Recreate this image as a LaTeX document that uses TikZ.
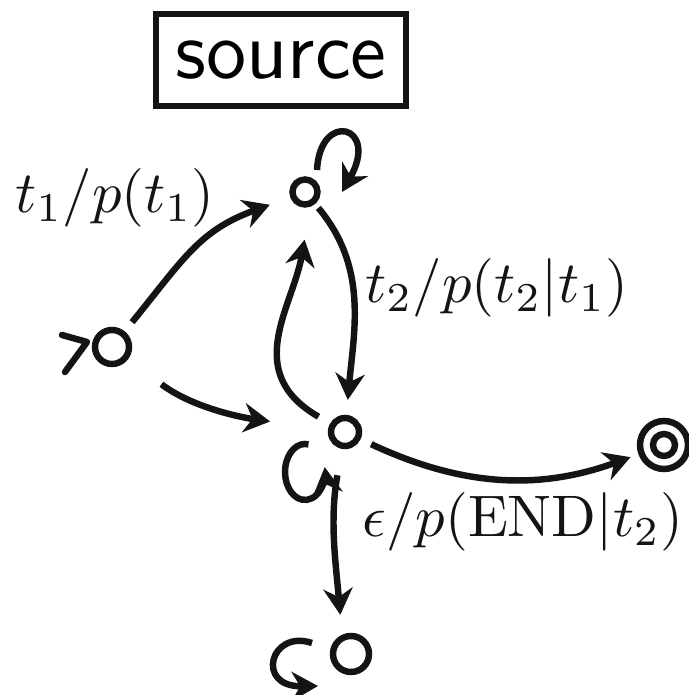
\documentclass[tikz,border=0pt]{standalone}
\usetikzlibrary{arrows.meta}
\definecolor{ink}{HTML}{141414}
\tikzset{
  stnode/.style={circle, draw=ink, line width=1.1pt, inner sep=0pt, minimum size=#1},
  trans/.style={draw=ink, line width=1.1pt, -{Stealth[length=4.5pt, width=5pt]}},
  translbl/.style={text=ink, inner sep=1pt},
  srcbox/.style={draw=ink, line width=1.1pt, minimum width=1.43cm, minimum height=0.55cm, font=\fontsize{14}{16}\selectfont\sffamily}
}

\begin{document}
\begin{tikzpicture}[x=0.006cm, y=0.006cm]
  \useasboundingbox (0,0) rectangle (689,695);

  % ---- Title box -----------------------------------------------------------
  \node[srcbox] (src) at (281,635) {source};

  % ---- States --------------------------------------------------------------
  \node[stnode=0.204cm] (q0) at (112,348) {};
  \node[stnode=0.15cm] (q1) at (305,503) {};
  \node[stnode=0.168cm] (q2) at (345,263) {};
  \node[stnode=0.288cm] (qf) at (664,250) {};
  \node[stnode=0.132cm] (qfin) at (qf) {};
  \node[stnode=0.216cm] (q3) at (351,41) {};

  % ---- Start marker, left of q0 ---------------------------------------------
  \draw[draw=ink, line width=1.1pt, line join=round, line cap=round]
    (62,360) -- (87,353) -- (65,323);

  % ---- Transitions ---------------------------------------------------------
  \draw[trans, shorten <=0.07cm, shorten >=0.13cm] (q0) to[out=51, in=200, looseness=1.15] (q1);
  \draw[trans, shorten <=0.25cm, shorten >=0.35cm] (q0) to[out=-37, in=172] (q2);
  \draw[trans, shorten <=0.03cm, shorten >=0.09cm] (q1) to[out=-50, in=85] (q2);
  \draw[trans, shorten <=0.08cm, shorten >=0.2cm] (q2) to[out=150, in=-100, looseness=1.2] (q1.-70);
  \draw[trans, shorten <=0.07cm, shorten >=0.05cm] (q2) to[out=-25, in=200] (qf);
  \draw[trans, shorten <=0.16cm, shorten >=0.12cm] (q2) to[out=-100, in=95] (q3.115);

  % ---- Self-loops (drawn loose of the circles) ------------------------------
  \draw[trans] ([shift={(12,22)}]q1.center)
    .. controls ([shift={(15,82)}]q1.center) and ([shift={(75,67)}]q1.center)
    .. ([shift={(37,0)}]q1.center);
  \draw[trans] ([shift={(-36.5,-12.4)}]q2.center) arc[start angle=80, end angle=370, x radius=20, y radius=28];
  \draw[trans] ([shift={(-39,11)}]q3.center)
    .. controls ([shift={(-81,25)}]q3.center) and ([shift={(-96,-33)}]q3.center)
    .. ([shift={(-33,-32)}]q3.center);

  % ---- Transition labels ---------------------------------------------------
  \node[translbl] (lbl01) at (115,497) {$t_1/p(t_1)$};
  \node[translbl] (lbl12) at (497,407) {$t_2/p(t_2|t_1)$};
  \node[translbl] (lbl2f) at (523,173) {$\epsilon/p(\mathrm{END}|t_2)$};

\end{tikzpicture}
\end{document}
